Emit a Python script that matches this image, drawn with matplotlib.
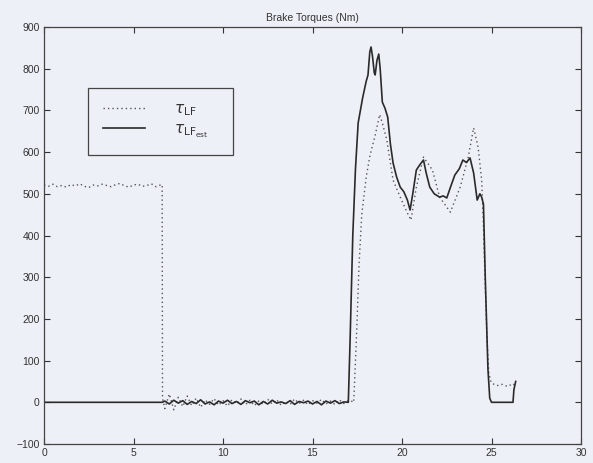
import matplotlib.pyplot as plt
import numpy as np

# tau_LF (dotted): plateau, noisy zero band, braking event
lf_t = [0.0, 0.25, 0.5, 0.75, 1.0, 1.25, 1.5, 1.75, 2.0, 2.25, 2.5, 2.75, 3.0,
        3.25, 3.5, 3.75, 4.0, 4.25, 4.5, 4.75, 5.0, 5.25, 5.5, 5.75, 6.0, 6.25,
        6.5, 6.6, 6.62,
        6.75, 7.0, 7.25, 7.5, 7.75, 8.0, 8.25, 8.5, 8.75, 9.0, 9.25, 9.5, 9.75,
        10.0, 10.25, 10.5, 10.75, 11.0, 11.25, 11.5, 11.75, 12.0, 12.25, 12.5,
        12.75, 13.0, 13.25, 13.5, 13.75, 14.0, 14.25, 14.5, 14.75, 15.0, 15.25,
        15.5, 15.75, 16.0, 16.25, 16.5, 16.75, 17.0, 17.25,
        17.3, 17.45, 17.6, 17.75, 18.0, 18.2, 18.5, 18.75, 18.9, 19.15, 19.5,
        19.9, 20.3, 20.5, 20.8, 21.2, 21.7, 22.1, 22.7, 23.25, 23.7, 24.0,
        24.25, 24.45, 24.55, 24.65, 24.75, 24.85, 24.95, 25.0, 25.3, 25.6,
        25.9, 26.2, 26.3]
lf_v = [521, 518, 523, 517, 520, 516, 522, 519, 524, 518, 515, 521, 519, 523,
        520, 517, 522, 525, 519, 516, 521, 523, 518, 520, 524, 517, 521, 522, 10,
        -15, 20, -18, 12, -10, 15, -8, 10, -12, 6, -5, 9, -7, 4, -9, 6, -3, 8,
        -6, 5, -8, 3, -5, 7, -4, 6, -7, 2, -5, 8, -3, 5, -6, 4, -2, 7, -4, 3,
        -5, 6, -3, 4, 2,
        0, 150, 330, 450, 540, 590, 640, 690, 670, 629, 533,
        492, 454, 437, 516, 588, 557, 492, 456, 516, 588, 658,
        612, 533, 420, 280, 150, 70, 52, 46, 40, 43,
        38, 45, 40]

# tau_LF_est (solid)
est_t = [0.0, 6.6,
         6.75, 7.0, 7.25, 7.5, 7.75, 8.0, 8.25, 8.5, 8.75, 9.0, 9.25, 9.5,
         9.75, 10.0, 10.25, 10.5, 10.75, 11.0, 11.25, 11.5, 11.75, 12.0, 12.25,
         12.5, 12.75, 13.0, 13.25, 13.5, 13.75, 14.0, 14.25, 14.5, 14.75, 15.0,
         15.25, 15.5, 15.75, 16.0, 16.25, 16.5, 16.75,
         17.0, 17.1, 17.25, 17.4, 17.55, 17.8, 18.0, 18.1, 18.2, 18.27, 18.35,
         18.45, 18.5, 18.6, 18.7, 18.78, 18.9, 19.05, 19.2, 19.35, 19.5, 19.7,
         19.9, 20.1, 20.3, 20.45, 20.6, 20.8, 21.0, 21.2, 21.35, 21.55, 21.8,
         22.1, 22.3, 22.5, 22.7, 22.95, 23.2, 23.4, 23.6, 23.8, 24.0, 24.2,
         24.35, 24.45, 24.55, 24.65, 24.8, 24.9, 25.0, 26.2, 26.25, 26.35]
est_v = [0, 0,
         3, -4, 5, -2, 4, -5, 2, -3, 6, -4, 1, -6, 3, -2, 5, -3, 2, -5, 4, -1,
         3, -6, 2, -4, 5, -2, 1, -3, 4, -5, 2, -1, 3, -4, 2, -6, 3, -2, 4, -3, 1,
         0, 150, 400, 560, 670, 730, 770, 785, 840, 852, 830,
         790, 785, 820, 835, 800, 720, 705, 684, 620, 574, 540,
         516, 505, 485, 461, 500, 557, 570, 581, 550, 516, 500,
         492, 495, 490, 515, 545, 560, 581, 575, 586, 550, 485,
         500, 492, 475, 300, 80, 10, 0, 0, 30, 50]

bg = '#edf0f7'
plt.rcParams['font.family'] = ['Liberation Sans', 'DejaVu Sans']

fig = plt.figure(figsize=(5.93, 4.63), dpi=100, facecolor=bg)
ax = fig.add_axes([0.0742, 0.041, 0.9056, 0.9007], facecolor=bg)

ax.plot(lf_t, lf_v, linestyle=(0, (1, 2.2)), color='#555555', linewidth=1.0,
        label=r'$\tau_{\mathrm{LF}}$' + '   ')
ax.plot(est_t, est_v, linestyle='-', color='#2a2a2a', linewidth=1.2,
        label=r'$\tau_{\mathrm{LF}_{\mathrm{est}}}$' + '   ')

ax.set_xlim(0, 30)
ax.set_ylim(-100, 900)
ax.set_xticks(np.arange(0, 31, 5))
ax.set_yticks(np.arange(-100, 901, 100))
ax.tick_params(direction='in', top=True, right=True, length=4, width=0.8,
               labelsize=7.5, colors='#333333', pad=3)
for s in ax.spines.values():
    s.set_color('#444444')
    s.set_linewidth(0.9)

ax.set_title('Brake Torques (Nm)', fontsize=7.5, color='#333333', pad=4)

leg = ax.legend(loc='upper left', bbox_to_anchor=(0.082, 0.854), fontsize=11,
                frameon=True, fancybox=False, edgecolor='#444444', facecolor=bg,
                framealpha=1, handlelength=2.8, handletextpad=1.9,
                borderpad=0.95, labelspacing=0.3, borderaxespad=0)
leg.get_frame().set_linewidth(0.9)
for txt in leg.get_texts():
    txt.set_color('#333333')

fig.savefig('out.png', dpi=100, facecolor=bg)
